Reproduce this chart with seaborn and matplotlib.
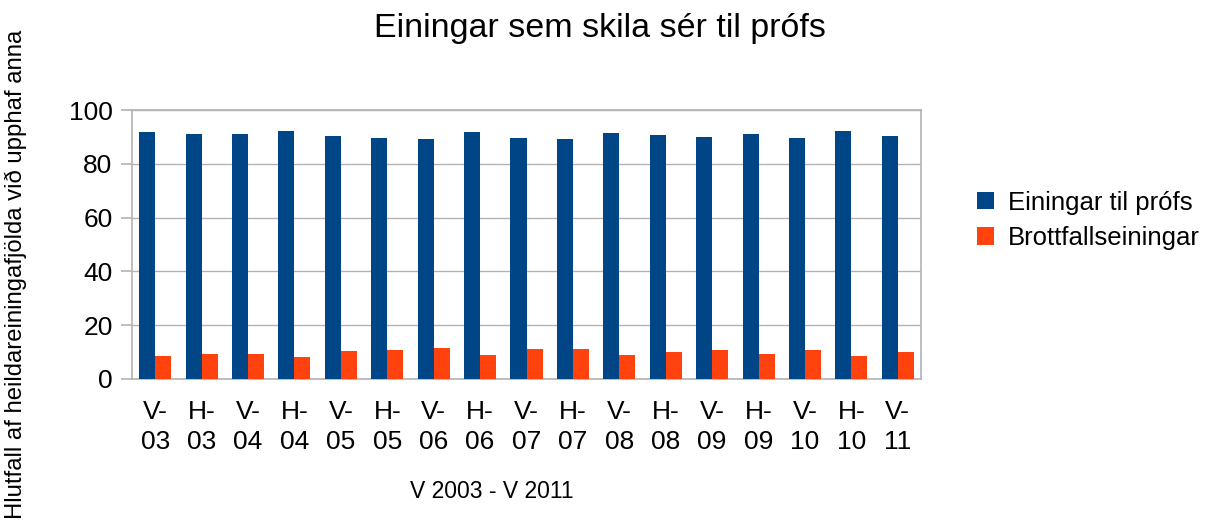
import matplotlib
matplotlib.use("Agg")
import matplotlib.pyplot as plt
import seaborn as sns
import pandas as pd

categories = ["V-\n03", "H-\n03", "V-\n04", "H-\n04", "V-\n05", "H-\n05", "V-\n06", "H-\n06",
              "V-\n07", "H-\n07", "V-\n08", "H-\n08", "V-\n09", "H-\n09", "V-\n10", "H-\n10", "V-\n11"]
einingar = [91.8, 91.1, 91.1, 92.2, 90.3, 89.6, 89.2, 91.8, 89.6, 89.2, 91.4, 90.7, 90.0, 91.1, 89.6, 92.2, 90.3]
brottfall = [8.6, 9.3, 9.3, 8.2, 10.4, 10.8, 11.5, 8.9, 11.2, 11.2, 8.9, 10.0, 10.8, 9.3, 10.8, 8.6, 10.0]
series_names = ["Einingar til prófs", "Brottfallseiningar"]
colors = ["#004586", "#FF420E"]

df = pd.DataFrame({
    "cat": categories * 2,
    "val": einingar + brottfall,
    "series": [series_names[0]] * len(categories) + [series_names[1]] * len(categories),
})

sns.set_theme(style="white")
plt.rcParams['font.family'] = ['Liberation Sans', 'DejaVu Sans']
plt.rcParams['text.color'] = 'black'
plt.rcParams['xtick.color'] = 'black'
plt.rcParams['ytick.color'] = 'black'

fig = plt.figure(figsize=(12.18, 5.21), dpi=100)
ax = fig.add_axes([132/1218, 1-379/521, (921-132)/1218, (379-110)/521])

sns.barplot(data=df, x="cat", y="val", hue="series", palette=colors, width=0.69,
            ax=ax, saturation=1, errorbar=None, zorder=3, linewidth=0)

ax.set_ylim(0, 100)
ax.set_xlim(-0.5, len(categories) - 0.5)
ax.set_yticks([0, 20, 40, 60, 80, 100])
ax.yaxis.grid(True, color="#b3b3b3", linewidth=1, zorder=0)
ax.set_axisbelow(True)
for s in ax.spines.values():
    s.set_color("#b3b3b3")
    s.set_linewidth(1.2)
    s.set_visible(True)

ax.set_xticks(range(len(categories)))
ax.set_xticklabels(categories, fontsize=19, linespacing=1.35)
ax.tick_params(axis="x", length=0, pad=15)
ax.set_xticks([i - 0.5 for i in range(len(categories) + 1)], minor=True)
ax.tick_params(axis="x", which="minor", length=11, color="#b3b3b3", width=1.2, direction="out")
ax.tick_params(axis="y", labelsize=19, length=8, color="#b3b3b3", labelcolor="black", width=1.2,
               direction="out", left=True, pad=6)
ax.tick_params(axis="x", labelcolor="black")
ax.set_xlabel("")
ax.set_ylabel("")

leg = ax.legend(loc="center left", bbox_to_anchor=(1.042, 0.59), frameon=False, fontsize=18.5,
                handlelength=0.65, handleheight=0.65, handletextpad=0.55, labelspacing=0.45)
for t in leg.get_texts():
    t.set_color("black")

fig.text(600/1218, 1-28/521, "Einingar sem skila sér til prófs", ha="center", va="center", fontsize=24.5)
fig.text(492/1218, 1-492/521, "V 2003 - V 2011", ha="center", va="center", fontsize=16.5)
fig.text(16/1218, 1-274/521, "Hlutfall af heildareiningafjölda við upphaf anna", ha="center", va="center",
         rotation=90, fontsize=17.2)

fig.savefig("out.png", dpi=100)
